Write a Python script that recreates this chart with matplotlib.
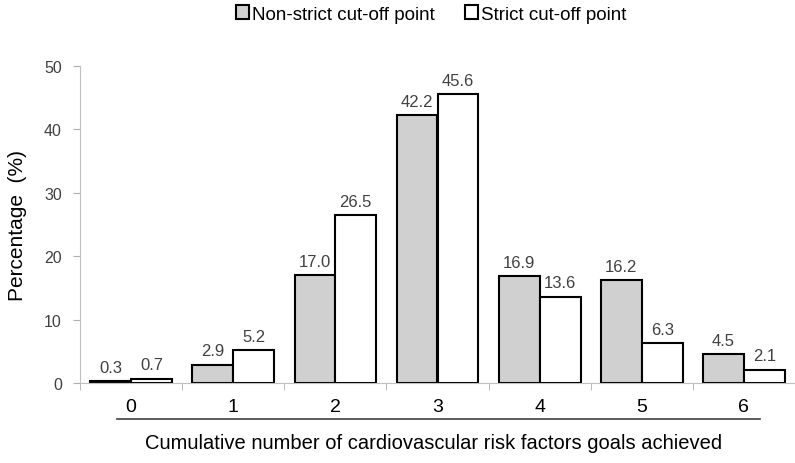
import numpy as np
import matplotlib.pyplot as plt
from matplotlib.lines import Line2D
plt.rcParams['font.family'] = ['Liberation Sans', 'DejaVu Sans']

categories = ['0', '1', '2', '3', '4', '5', '6']
non_strict = [0.3, 2.9, 17.0, 42.2, 16.9, 16.2, 4.5]
strict = [0.7, 5.2, 26.5, 45.6, 13.6, 6.3, 2.1]
labels = ['Non-strict cut-off point', 'Strict cut-off point']

fig = plt.figure(figsize=(7.95, 4.64), dpi=100)
ax = fig.add_axes([80 / 795, 80 / 464, 715 / 795, 317 / 464])

x = np.arange(len(categories))
w = 0.4
b1 = ax.bar(x - w / 2, non_strict, w, color='#d0d0d0', edgecolor='black', linewidth=1.5, label=labels[0])
b2 = ax.bar(x + w / 2, strict, w, color='white', edgecolor='black', linewidth=1.5, label=labels[1])

for bars, vals in ((b1, non_strict), (b2, strict)):
    for r, v in zip(bars, vals):
        ax.text(r.get_x() + r.get_width() / 2, v + 1.0, '%.1f' % v,
                ha='center', va='bottom', fontsize=12, color='#404040')

ax.set_xlim(-0.5, 6.5)
ax.set_ylim(0, 50)
ax.set_yticks(range(0, 51, 10))
ax.set_xticks(x)
ax.set_xticklabels(categories, fontsize=14)
ax.set_xticks(np.arange(-0.5, 6.5, 1), minor=True)
ax.tick_params(axis='x', which='major', length=0, pad=11, colors='black')
ax.tick_params(axis='x', which='minor', length=5, color='#b0b0b0')
ax.tick_params(axis='y', length=5, pad=8, color='#b0b0b0', labelcolor='#404040', labelsize=11.5)
for s in ('top', 'right'):
    ax.spines[s].set_visible(False)
ax.spines['left'].set_color('#c0c0c0')
ax.spines['bottom'].set_color('#c0c0c0')

ax.set_ylabel('Percentage  (%)', fontsize=15, labelpad=12)

fig.add_artist(Line2D([117 / 795, 760 / 795], [1 - 420 / 464, 1 - 420 / 464],
                      color='#404040', linewidth=1.2))
fig.text(434 / 795, 1 - 444 / 464, 'Cumulative number of cardiovascular risk factors goals achieved',
         ha='center', va='center', fontsize=14.5)

ax.legend(loc='center', bbox_to_anchor=(431 / 795, 1 - 15 / 464), bbox_transform=fig.transFigure,
          ncol=2, frameon=False, fontsize=13.5, handlelength=0.7, handleheight=0.7,
          handletextpad=0.15, columnspacing=1.6)

fig.savefig('out.png', dpi=100)
